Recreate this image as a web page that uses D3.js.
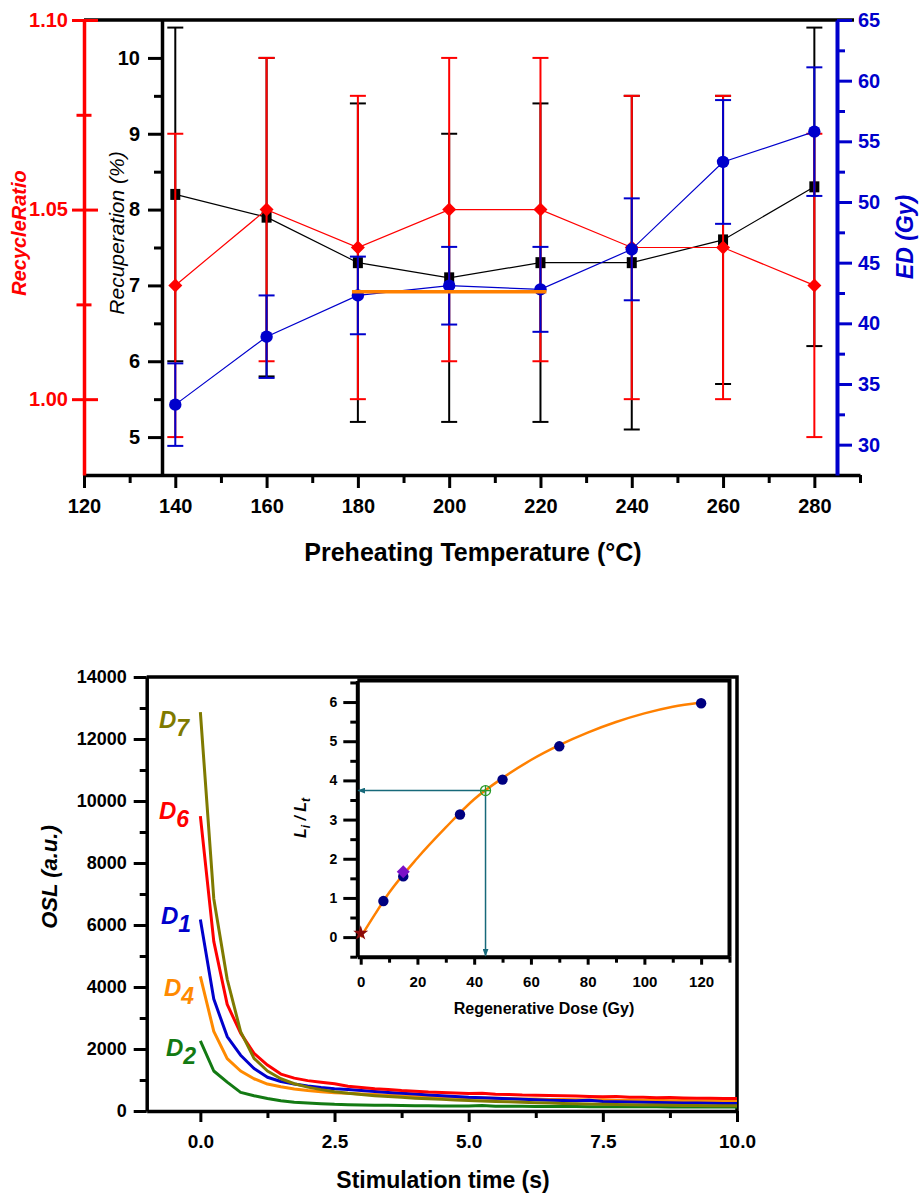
<!DOCTYPE html>
<html>
<head>
<meta charset="utf-8">
<script src="https://cdn.jsdelivr.net/npm/d3@7"></script>
<style>
    body { margin: 0; background: #fff; }
    svg { display: block; font-family: 'Liberation Sans', Arial, sans-serif; }
</style>
</head>
<body>
<script>

// SETTING FUNCTION SCOPE

(function(){


// PREHEAT PLATEAU DATA

    const temps = [140, 160, 180, 200, 220, 240, 260, 280];
    const recuperation = [8.2, 7.9, 7.3, 7.1, 7.3, 7.3, 7.6, 8.3];
    const recuperationErr = [2.2, 2.1, 2.1, 1.9, 2.1, 2.2, 1.9, 2.1];
    const recycleRatio = [1.03, 1.05, 1.04, 1.05, 1.05, 1.04, 1.04, 1.03];
    const recycleRatioErr = [0.04, 0.04, 0.04, 0.04, 0.04, 0.04, 0.04, 0.04];
    const equivDose = [33.3, 38.9, 42.3, 43.1, 42.8, 46.1, 53.3, 55.8];
    const equivDoseErr = [3.4, 3.4, 3.2, 3.2, 3.5, 4.2, 5.1, 5.3];
    const plateauTemps = [178.7, 221.3];
    const plateauDose = [42.6, 42.6];

    const tempTicks = [120, 140, 160, 180, 200, 220, 240, 260, 280];
    const tempMinor = [130, 150, 170, 190, 210, 230, 250, 270, 290];
    const recTicks = [5, 6, 7, 8, 9, 10];
    const recMinor = [5.5, 6.5, 7.5, 8.5, 9.5];
    const ratioTicks = [1.00, 1.05, 1.10];
    const ratioMinor = [1.025, 1.075];
    const doseTicks = [30, 35, 40, 45, 50, 55, 60, 65];
    const doseMinor = [32.5, 37.5, 42.5, 47.5, 52.5, 57.5, 62.5];


// OSL DECAY DATA

    const stimTime = [0, 0.25, 0.5, 0.75, 1, 1.25, 1.5, 1.75, 2, 2.25, 2.5, 2.75, 3, 3.25, 3.5, 3.75,
        4, 4.25, 4.5, 4.75, 5, 5.25, 5.5, 5.75, 6, 6.25, 6.5, 6.75, 7, 7.25, 7.5, 7.75,
        8, 8.25, 8.5, 8.75, 9, 9.25, 9.5, 9.75, 10];
    const oslD7 = [12870, 6850, 4250, 2560, 1700, 1290, 1040, 880, 770, 690, 620, 570, 530, 495, 465, 440,
        415, 395, 375, 355, 340, 325, 310, 295, 280, 265, 255, 245, 235, 225, 215, 210,
        200, 195, 190, 185, 180, 175, 172, 170, 168];
    const oslD6 = [9510, 5470, 3440, 2510, 1860, 1480, 1190, 1060, 980, 930, 880, 800, 760, 720, 690, 660,
        640, 615, 600, 580, 565, 575, 540, 530, 515, 510, 500, 490, 480, 470, 460, 465,
        445, 440, 430, 435, 420, 410, 415, 400, 405];
    const oslD1 = [6180, 3610, 2400, 1800, 1370, 1090, 950, 870, 810, 760, 720, 690, 660, 630, 600, 570,
        545, 520, 495, 470, 445, 430, 410, 395, 380, 365, 350, 340, 330, 345, 310, 300,
        290, 285, 275, 270, 260, 255, 250, 245, 240];
    const oslD4 = [4340, 2570, 1690, 1290, 1040, 870, 780, 710, 660, 620, 590, 570, 550, 530, 510, 495,
        480, 465, 455, 440, 430, 420, 410, 400, 390, 385, 375, 370, 360, 355, 365, 340,
        350, 335, 345, 330, 335, 325, 330, 320, 325];
    const oslD2 = [2264, 1290, 930, 600, 490, 405, 330, 280, 255, 235, 215, 205, 195, 188, 182, 176,
        172, 168, 165, 162, 158, 175, 155, 152, 150, 148, 146, 144, 142, 140, 139, 138,
        136, 135, 134, 133, 132, 131, 130, 130, 129];
    const decayNames = ['2', '4', '1', '6', '7'];

    const stimTicks = [0, 2.5, 5, 7.5, 10];
    const stimMinor = [1.25, 3.75, 6.25, 8.75];
    const oslTicks = [0, 2000, 4000, 6000, 8000, 10000, 12000, 14000];
    const oslMinor = [1000, 3000, 5000, 7000, 9000, 11000, 13000];


// GROWTH CURVE DATA (INSET)

    const regenDose = [8, 15, 35, 50, 70, 120];
    const regenSignal = [0.92, 1.55, 3.13, 4.02, 4.87, 5.97];
    const recycleDose = [15];
    const recycleSignal = [1.67];
    const zeroDose = [0];
    const zeroSignal = [0.1];
    const naturalDose = [44];
    const naturalSignal = [3.74];
    const fitDose = [0, 5, 10, 20, 30, 40, 50, 60, 70, 80, 90, 100, 110, 120];
    const fitSignal = [0.0, 0.58, 1.13, 2.02, 2.80, 3.52, 4.06, 4.52, 4.90, 5.22, 5.49, 5.71, 5.88, 5.99];

    const insetXTicks = [0, 20, 40, 60, 80, 100, 120];
    const insetXMinor = [10, 30, 50, 70, 90, 110, 130];
    const insetYTicks = [0, 1, 2, 3, 4, 5, 6];
    const insetYMinor = [-0.5, 0.5, 1.5, 2.5, 3.5, 4.5, 5.5, 6.5];

    const intFormat = d3.format('d');


    window.onload = setPage();


// PAGE

function setPage(){
    const svg = d3
        .select('body')
        .append('svg')
        .attr('width', 920)
        .attr('height', 1193);

    svg.append('rect')
        .attr('width', 920)
        .attr('height', 1193)
        .attr('fill', '#fff');

    const defs = svg.append('defs');
    defs.append('marker')
        .attr('id', 'arrow')
        .attr('markerUnits', 'userSpaceOnUse')
        .attr('markerWidth', 8)
        .attr('markerHeight', 6)
        .attr('refX', 7)
        .attr('refY', 3)
        .attr('orient', 'auto')
        .append('path')
        .attr('d', 'M0,0L8,3L0,6Z')
        .attr('fill', '#17697a');

    setPlateauChart(svg);
    setDecayChart(svg);
    setInset(svg);
};


// AXIS HELPERS

function styleAxis(g, color, lineWidth, fontSize){
    g.attr('font-family', null).attr('font-size', null);
    g.select('.domain')
        .attr('stroke', color)
        .attr('stroke-width', lineWidth);
    g.selectAll('.tick line')
        .attr('stroke', color)
        .attr('stroke-width', 3);
    g.selectAll('.tick text')
        .attr('fill', color)
        .style('font-size', fontSize + 'px')
        .style('font-weight', 'bold');
};

function minorAxis(svg, axis, transform, color){
    const g = svg
        .append('g')
        .attr('transform', transform)
        .call(axis.tickFormat(''));
    g.select('.domain').remove();
    g.selectAll('.tick line')
        .attr('stroke', color)
        .attr('stroke-width', 3);
    return g;
};

function diamond(r){
    return 'M0,' + (-r) + 'L' + r + ',0L0,' + r + 'L' + (-r) + ',0Z';
};


// TOP CHART

function setPlateauChart(svg){
    const x = d3.scaleLinear().domain([120, 290]).range([84, 860]);
    const yRec = d3.scaleLinear().domain([4.5, 10.5]).range([475, 20]);
    const yRatio = d3.scaleLinear().domain([0.98, 1.10]).range([475, 20]);
    const yDose = d3.scaleLinear().domain([27.5, 65]).range([475, 20]);

    const frameTop = svg
        .append('line')
        .attr('x1', 84)
        .attr('x2', 854)
        .attr('y1', 20)
        .attr('y2', 20)
        .attr('stroke', '#000')
        .attr('stroke-width', 3.5);

    // x axis
    minorAxis(svg, d3.axisBottom(x).tickValues(tempMinor).tickSize(8), 'translate(0,475)', '#000');
    const xAxis = svg
        .append('g')
        .attr('transform', 'translate(0,475)')
        .call(d3.axisBottom(x).tickValues(tempTicks).tickSize(13).tickSizeOuter(0)
            .tickPadding(11).tickFormat(intFormat));
    styleAxis(xAxis, '#000', 3.5, 20);

    // recycle ratio axis, ticks cross the line
    const ratioMin = minorAxis(svg, d3.axisLeft(yRatio).tickValues(ratioMinor).tickSize(7.5), 'translate(84,0)', '#ff0000');
    ratioMin.selectAll('.tick line').attr('x1', 7.5);
    const ratioAxis = svg
        .append('g')
        .attr('transform', 'translate(84,0)')
        .call(d3.axisLeft(yRatio).tickValues(ratioTicks).tickSize(12).tickSizeOuter(0)
            .tickPadding(4).tickFormat(d3.format('.2f')));
    styleAxis(ratioAxis, '#ff0000', 3.5, 20);
    ratioAxis.selectAll('.tick line').attr('x1', 14);

    // recuperation axis
    minorAxis(svg, d3.axisLeft(yRec).tickValues(recMinor).tickSize(8), 'translate(162,0)', '#000');
    const recAxis = svg
        .append('g')
        .attr('transform', 'translate(162,0)')
        .call(d3.axisLeft(yRec).tickValues(recTicks).tickSize(14).tickSizeOuter(0)
            .tickPadding(8).tickFormat(intFormat));
    styleAxis(recAxis, '#000', 3.5, 20);

    // ED axis
    minorAxis(svg, d3.axisRight(yDose).tickValues(doseMinor).tickSize(8), 'translate(837,0)', '#0000cc');
    const doseAxis = svg
        .append('g')
        .attr('transform', 'translate(837,0)')
        .call(d3.axisRight(yDose).tickValues(doseTicks).tickSize(15).tickSizeOuter(0)
            .tickPadding(6).tickFormat(intFormat));
    styleAxis(doseAxis, '#0000cc', 4, 20);

    // series
    drawSeries(svg, x, yRec, recuperation, recuperationErr, '#000', 'square');
    drawSeries(svg, x, yRatio, recycleRatio, recycleRatioErr, '#ff0000', 'diamond');
    drawSeries(svg, x, yDose, equivDose, equivDoseErr, '#0000cc', 'circle');

    const plateau = svg
        .append('path')
        .datum(plateauTemps.map(function(t, i){ return [t, plateauDose[i]]; }))
        .attr('d', d3.line().x(function(d){ return x(d[0]); }).y(function(d){ return yDose(d[1]); }))
        .attr('stroke', '#ff8000')
        .attr('stroke-width', 3.5)
        .attr('fill', 'none');

    // titles
    svg.append('text')
        .attr('transform', 'translate(19,233) rotate(-90)')
        .attr('text-anchor', 'middle')
        .attr('dominant-baseline', 'central')
        .style('font-size', '20px')
        .style('font-weight', 'bold')
        .style('font-style', 'italic')
        .attr('fill', '#ff0000')
        .text('RecycleRatio');

    svg.append('text')
        .attr('transform', 'translate(116,233) rotate(-90)')
        .attr('text-anchor', 'middle')
        .attr('dominant-baseline', 'central')
        .style('font-size', '21px')
        .style('font-style', 'italic')
        .attr('fill', '#000')
        .text('Recuperation (%)');

    svg.append('text')
        .attr('transform', 'translate(905,237) rotate(-90)')
        .attr('text-anchor', 'middle')
        .attr('dominant-baseline', 'central')
        .style('font-size', '23px')
        .style('font-weight', 'bold')
        .style('font-style', 'italic')
        .attr('fill', '#0000cc')
        .text('ED (Gy)');

    svg.append('text')
        .attr('x', 473)
        .attr('y', 552)
        .attr('text-anchor', 'middle')
        .attr('dominant-baseline', 'central')
        .style('font-size', '25px')
        .style('font-weight', 'bold')
        .text('Preheating Temperature (°C)');
};

function drawSeries(svg, x, y, values, errs, color, marker){
    const rows = temps.map(function(t, i){
        return {t: t, v: values[i], e: errs[i]};
    });
    const g = svg.append('g');

    g.selectAll('.errbar')
        .data(rows)
        .enter()
        .append('line')
        .attr('x1', function(d){ return x(d.t); })
        .attr('x2', function(d){ return x(d.t); })
        .attr('y1', function(d){ return y(d.v - d.e); })
        .attr('y2', function(d){ return y(d.v + d.e); })
        .attr('stroke', color)
        .attr('stroke-width', 2);

    [-1, 1].forEach(function(side){
        g.selectAll('.cap' + side)
            .data(rows)
            .enter()
            .append('line')
            .attr('x1', function(d){ return x(d.t) - 8; })
            .attr('x2', function(d){ return x(d.t) + 8; })
            .attr('y1', function(d){ return y(d.v + side * d.e); })
            .attr('y2', function(d){ return y(d.v + side * d.e); })
            .attr('stroke', color)
            .attr('stroke-width', 2);
    });

    g.append('path')
        .datum(rows)
        .attr('d', d3.line().x(function(d){ return x(d.t); }).y(function(d){ return y(d.v); }))
        .attr('stroke', color)
        .attr('stroke-width', 1.2)
        .attr('fill', 'none');

    const marks = g.selectAll('.mark')
        .data(rows)
        .enter();

    if (marker == 'square'){
        marks.append('rect')
            .attr('x', function(d){ return x(d.t) - 5; })
            .attr('y', function(d){ return y(d.v) - 5.5; })
            .attr('width', 10)
            .attr('height', 11)
            .attr('fill', color);
    } else if (marker == 'diamond'){
        marks.append('path')
            .attr('transform', function(d){ return 'translate(' + x(d.t) + ',' + y(d.v) + ')'; })
            .attr('d', diamond(7))
            .attr('fill', color);
    } else {
        marks.append('circle')
            .attr('cx', function(d){ return x(d.t); })
            .attr('cy', function(d){ return y(d.v); })
            .attr('r', 6.2)
            .attr('fill', color);
    };
};


// BOTTOM CHART

function setDecayChart(svg){
    const x = d3.scaleLinear().domain([-1, 10]).range([146.7, 737]);
    const y = d3.scaleLinear().domain([0, 14000]).range([1111, 677]);

    const frame = svg
        .append('path')
        .attr('d', 'M146.7,677H737V1111')
        .attr('stroke', '#000')
        .attr('stroke-width', 3.5)
        .attr('fill', 'none');

    minorAxis(svg, d3.axisBottom(x).tickValues(stimMinor).tickSize(7), 'translate(0,1111)', '#000');
    const xAxis = svg
        .append('g')
        .attr('transform', 'translate(0,1111)')
        .call(d3.axisBottom(x).tickValues(stimTicks).tickSize(11).tickSizeOuter(0)
            .tickPadding(13).tickFormat(d3.format('.1f')));
    styleAxis(xAxis, '#000', 3.5, 19);

    minorAxis(svg, d3.axisLeft(y).tickValues(oslMinor).tickSize(7), 'translate(146.7,0)', '#000');
    const yAxis = svg
        .append('g')
        .attr('transform', 'translate(146.7,0)')
        .call(d3.axisLeft(y).tickValues(oslTicks).tickSize(13).tickSizeOuter(0)
            .tickPadding(7).tickFormat(intFormat));
    styleAxis(yAxis, '#000', 3.5, 18);

    const series = [oslD2, oslD4, oslD1, oslD6, oslD7];
    const colors = ['#137a13', '#ff8a00', '#0000cc', '#ff0000', '#7f7a00'];
    const labelX = [166, 164, 161, 159, 159];
    const labelY = [1056, 996, 924, 819, 728];

    const line = d3.line()
        .x(function(d, i){ return x(stimTime[i]); })
        .y(function(d){ return y(d); });

    series.forEach(function(vals, k){
        svg.append('path')
            .datum(vals)
            .attr('d', line)
            .attr('stroke', colors[k])
            .attr('stroke-width', 3)
            .attr('stroke-linejoin', 'round')
            .attr('fill', 'none');

        const label = svg
            .append('text')
            .attr('x', labelX[k])
            .attr('y', labelY[k])
            .attr('fill', colors[k])
            .style('font-size', '24px')
            .style('font-weight', 'bold')
            .style('font-style', 'italic')
            .text('D');
        label.append('tspan')
            .attr('dy', 8)
            .style('font-size', '23px')
            .text(decayNames[k]);
    });

    svg.append('text')
        .attr('transform', 'translate(49,877) rotate(-90)')
        .attr('text-anchor', 'middle')
        .attr('dominant-baseline', 'central')
        .style('font-size', '22px')
        .style('font-weight', 'bold')
        .style('font-style', 'italic')
        .text('OSL (a.u.)');

    svg.append('text')
        .attr('x', 443)
        .attr('y', 1180)
        .attr('text-anchor', 'middle')
        .attr('dominant-baseline', 'central')
        .style('font-size', '23px')
        .style('font-weight', 'bold')
        .text('Stimulation time (s)');
};


// INSET

function setInset(svg){
    const x = d3.scaleLinear().domain([-1.2, 130]).range([357.3, 729.5]);
    const y = d3.scaleLinear().domain([-0.5, 6.55]).range([956.7, 680.5]);

    const frame = svg
        .append('path')
        .attr('d', 'M357.3,680.5H729.5V956.7')
        .attr('stroke', '#000')
        .attr('stroke-width', 4)
        .attr('fill', 'none');

    minorAxis(svg, d3.axisBottom(x).tickValues(insetXMinor).tickSize(6), 'translate(0,956.7)', '#000');
    const xAxis = svg
        .append('g')
        .attr('transform', 'translate(0,956.7)')
        .call(d3.axisBottom(x).tickValues(insetXTicks).tickSize(8).tickSizeOuter(0)
            .tickPadding(12).tickFormat(intFormat));
    styleAxis(xAxis, '#000', 4, 15);

    minorAxis(svg, d3.axisLeft(y).tickValues(insetYMinor).tickSize(7), 'translate(357.3,0)', '#000');
    const yAxis = svg
        .append('g')
        .attr('transform', 'translate(357.3,0)')
        .call(d3.axisLeft(y).tickValues(insetYTicks).tickSize(14).tickSizeOuter(0)
            .tickPadding(6).tickFormat(intFormat));
    styleAxis(yAxis, '#000', 4, 14);

    // fit curve
    svg.append('path')
        .datum(fitDose.map(function(d, i){ return [d, fitSignal[i]]; }))
        .attr('d', d3.line().curve(d3.curveMonotoneX)
            .x(function(d){ return x(d[0]); })
            .y(function(d){ return y(d[1]); }))
        .attr('stroke', '#ff8000')
        .attr('stroke-width', 2.5)
        .attr('fill', 'none');

    // interpolation arrows
    const nx = x(naturalDose[0]),
        ny = y(naturalSignal[0]);
    svg.append('line')
        .attr('x1', nx)
        .attr('y1', ny)
        .attr('x2', x(-1.2) + 1)
        .attr('y2', ny)
        .attr('stroke', '#17697a')
        .attr('stroke-width', 1.5)
        .attr('marker-end', 'url(#arrow)');
    svg.append('line')
        .attr('x1', nx)
        .attr('y1', ny)
        .attr('x2', nx)
        .attr('y2', y(-0.5) - 1)
        .attr('stroke', '#17697a')
        .attr('stroke-width', 1.5)
        .attr('marker-end', 'url(#arrow)');

    svg.selectAll('.regen')
        .data(regenDose)
        .enter()
        .append('circle')
        .attr('cx', function(d){ return x(d); })
        .attr('cy', function(d, i){ return y(regenSignal[i]); })
        .attr('r', 5.2)
        .attr('fill', '#000080');

    svg.selectAll('.recycle')
        .data(recycleDose)
        .enter()
        .append('path')
        .attr('transform', function(d, i){ return 'translate(' + x(d) + ',' + y(recycleSignal[i]) + ')'; })
        .attr('d', diamond(6.5))
        .attr('fill', '#7a10c8');

    svg.selectAll('.zero')
        .data(zeroDose)
        .enter()
        .append('path')
        .attr('transform', function(d, i){ return 'translate(' + x(d) + ',' + y(zeroSignal[i]) + ')'; })
        .attr('d', d3.symbol(d3.symbolStar, 70))
        .attr('fill', '#8b0a0a');

    const nat = svg.selectAll('.natural')
        .data(naturalDose)
        .enter()
        .append('g')
        .attr('transform', function(d, i){ return 'translate(' + x(d) + ',' + y(naturalSignal[i]) + ')'; });
    nat.append('circle')
        .attr('r', 5)
        .attr('fill', 'none')
        .attr('stroke', '#2a9a2a')
        .attr('stroke-width', 1.3);
    nat.append('path')
        .attr('d', 'M-5,0H5M0,-5V5')
        .attr('stroke', '#2a9a2a')
        .attr('stroke-width', 1.3);

    svg.append('text')
        .attr('x', 544)
        .attr('y', 1008)
        .attr('text-anchor', 'middle')
        .attr('dominant-baseline', 'central')
        .style('font-size', '16px')
        .style('font-weight', 'bold')
        .text('Regenerative Dose (Gy)');

    const yTitle = svg
        .append('text')
        .attr('transform', 'translate(306,818) rotate(-90)')
        .attr('text-anchor', 'middle')
        .style('font-size', '16px')
        .style('font-weight', 'bold')
        .style('font-style', 'italic');
    yTitle.append('tspan').text('L');
    yTitle.append('tspan').attr('dy', 4).style('font-size', '12px').text('i');
    yTitle.append('tspan').attr('dy', -4).text(' / L');
    yTitle.append('tspan').attr('dy', 4).style('font-size', '12px').text('t');
};

})();
</script>
</body>
</html>
